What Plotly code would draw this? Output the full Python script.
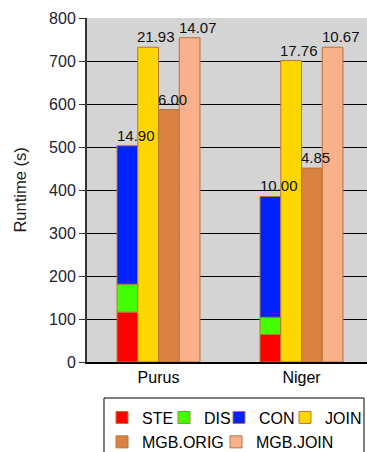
import plotly.graph_objects as go

categories = ["Purus", "Niger"]
ste = [116, 64]
dis = [65, 40]
con = [322, 281]
join = [732, 701]
mgb_orig = [587, 451]
mgb_join = [754, 732]

con_labels = ["14.90", "10.00"]
join_labels = ["21.93", "17.76"]
orig_labels = ["6.00", "4.85"]
mjoin_labels = ["14.07", "10.67"]

y_ticks = [0, 100, 200, 300, 400, 500, 600, 700, 800]

base_dis = [a for a in ste]
base_con = [a + b for a, b in zip(ste, dis)]
top_con = [a + b for a, b in zip(base_con, con)]

OUT = "#b8743a"
FONT = "Liberation Sans, Arial, sans-serif"
NB = "\u00a0"

fig = go.Figure()
common = dict(marker_line_color=OUT, marker_line_width=1)

fig.add_bar(name="STE", x=categories, y=ste, offsetgroup="s", legend="legend",
            marker_color="#ff0000", legendwidth=17, **common)
fig.add_bar(name="DIS", x=categories, y=dis, base=base_dis, offsetgroup="s",
            legend="legend", marker_color="#44ff00", legendwidth=10, **common)
fig.add_bar(name="CON", x=categories, y=con, base=base_con, offsetgroup="s",
            legend="legend", marker_color="#0022ff", legendwidth=21, **common)
fig.add_bar(name="JOIN", x=categories, y=join, offsetgroup="j", legend="legend",
            marker_color="#ffd700", **common)
fig.add_bar(name="MGB.ORIG", x=categories, y=mgb_orig, offsetgroup="o",
            legend="legend2", marker_color="#da8240", legendwidth=69, **common)
fig.add_bar(name="MGB.JOIN", x=categories, y=mgb_join, offsetgroup="m",
            legend="legend2", marker_color="#f8b18c", **common)

# value labels, left-aligned at the left edge of their bar slot
BAR_PX = 143 * 0.58 / 4
label_sets = [(top_con, con_labels), (join, join_labels),
              (mgb_orig, orig_labels), (mgb_join, mjoin_labels)]
annotations = []
for k, (tops, labels) in enumerate(label_sets):
    for cat, top, lab in zip(categories, tops, labels):
        annotations.append(dict(
            x=cat, y=top, xref="x", yref="y", text=lab, showarrow=False,
            xanchor="left", yanchor="bottom",
            xshift=(k - 2) * BAR_PX - 2.5, yshift=0,
            font=dict(family=FONT, size=15, color="#111111"),
        ))

legend_common = dict(
    orientation="h", xanchor="left", yanchor="top",
    borderwidth=0, bgcolor="rgba(0,0,0,0)",
    font=dict(family=FONT, size=16, color="#000"),
    traceorder="normal", itemclick=False, itemdoubleclick=False,
)

fig.update_layout(
    width=367, height=452,
    margin=dict(l=87, r=0, t=18, b=90, autoexpand=False),
    barmode="group", bargap=0.42, bargroupgap=0,
    plot_bgcolor="#d4d4d4", paper_bgcolor="white",
    font=dict(family=FONT, size=16, color="#222"),
    showlegend=True,
    legend=dict(x=0.0536, y=-0.112, **legend_common),
    legend2=dict(x=0.0536, y=-0.183, **legend_common),
    annotations=annotations,
    shapes=[dict(type="rect", xref="paper", yref="paper",
                 x0=0.0607, x1=0.9893, y0=-0.32, y1=-0.1047,
                 line=dict(color="#000", width=1), fillcolor="rgba(0,0,0,0)",
                 layer="below")],
)
fig.update_xaxes(
    range=[-0.5, 1.458], showgrid=False, showline=True, linecolor="#000",
    linewidth=2, ticks="", tickfont=dict(size=16, color="#000"),
    automargin=False,
)
fig.update_yaxes(
    range=[0, 800], tickvals=y_ticks, showgrid=True, gridcolor="#000",
    gridwidth=1, showline=True, linecolor="#333", linewidth=2,
    ticks="outside", ticklen=6, tickcolor="#333", ticksuffix=NB,
    tickfont=dict(size=16, color="#223"), zeroline=False, automargin=False,
    title=dict(text="Runtime (s)", font=dict(size=16.5, color="#222"), standoff=18),
)

fig.write_html("out.html", config={"displayModeBar": False},
               post_script="document.body.style.margin='0px';")
